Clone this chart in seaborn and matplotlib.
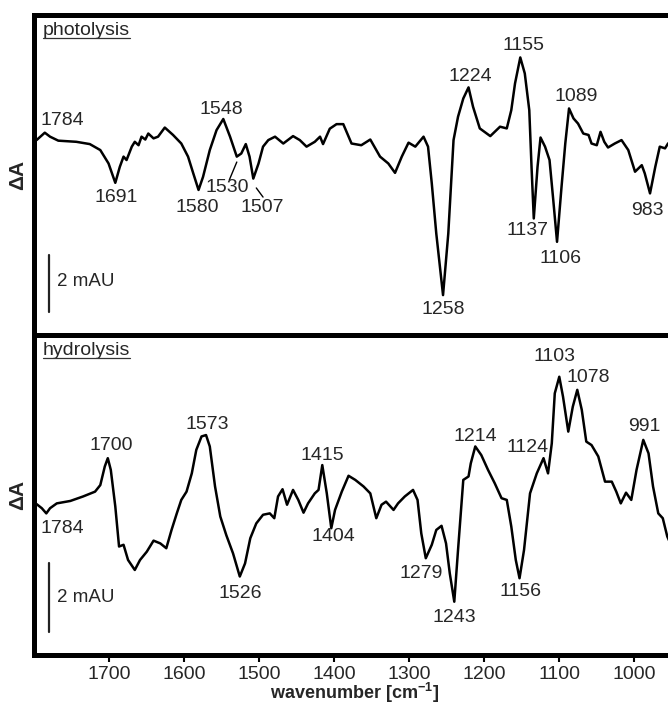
import matplotlib
matplotlib.use("Agg")
import matplotlib.pyplot as plt
import seaborn as sns

# ── Data ─────────────────────────────────────────────────────────────────────
# wavenumber in cm-1, dA in mAU
photo_wn = [1797, 1786, 1779, 1768, 1744, 1726, 1712, 1701, 1692, 1686, 1681, 1677,
            1670, 1666, 1661, 1657, 1652, 1648, 1641, 1635, 1626, 1615, 1604, 1595,
            1588, 1581, 1575, 1566, 1557, 1548, 1539, 1530, 1524, 1518, 1513, 1508,
            1501, 1495, 1488, 1479, 1468, 1455, 1446, 1437, 1426, 1419, 1415, 1406,
            1397, 1388, 1377, 1364, 1352, 1339, 1328, 1319, 1310, 1301, 1292, 1281,
            1275, 1270, 1264, 1255, 1248, 1241, 1235, 1228, 1221, 1215, 1206, 1192,
            1179, 1170, 1164, 1159, 1152, 1146, 1140, 1137, 1134, 1129, 1125, 1119,
            1113, 1108, 1103, 1097, 1092, 1087, 1081, 1075, 1068, 1061, 1057, 1050,
            1045, 1040, 1035, 1026, 1017, 1008, 999, 990, 986, 979, 972, 966, 959,
            955, 945, 930]
photo_dA = [0.00, 0.26, 0.12, -0.02, -0.06, -0.14, -0.35, -0.82, -1.50, -0.94, -0.58, -0.70,
            -0.23, -0.06, -0.18, 0.12, 0.02, 0.23, 0.06, 0.12, 0.44, 0.18, -0.12, -0.58,
            -1.17, -1.75, -1.29, -0.35, 0.35, 0.74, 0.12, -0.58, -0.47, -0.14, -0.58, -1.35,
            -0.82, -0.23, 0.00, 0.12, -0.12, 0.14, 0.00, -0.23, -0.06, 0.12, -0.14, 0.40,
            0.56, 0.56, -0.12, -0.18, 0.02, -0.58, -0.82, -1.15, -0.58, -0.09, -0.23, 0.12,
            -0.23, -1.52, -3.28, -5.44, -3.28, 0.00, 0.82, 1.46, 1.85, 1.17, 0.41, 0.14,
            0.47, 0.41, 1.05, 1.99, 2.90, 2.34, 1.05, -0.94, -2.75, -0.94, 0.09, -0.23,
            -0.70, -2.11, -3.57, -1.64, -0.12, 1.11, 0.76, 0.58, 0.23, 0.18, -0.12, -0.18,
            0.29, -0.06, -0.26, -0.12, 0.00, -0.35, -1.11, -0.88, -1.17, -1.87, -0.94, -0.23, -0.29,
            -0.12, 0.05, 0.10]

hydro_wn = [1797, 1790, 1784, 1779, 1770, 1752, 1735, 1719, 1712, 1706, 1702, 1698,
            1692, 1687, 1681, 1675, 1666, 1659, 1650, 1641, 1632, 1624, 1617, 1610,
            1604, 1597, 1590, 1584, 1577, 1571, 1566, 1559, 1552, 1544, 1535, 1526,
            1519, 1512, 1504, 1495, 1486, 1480, 1475, 1469, 1463, 1455, 1448, 1441,
            1435, 1426, 1421, 1416, 1410, 1404, 1399, 1390, 1381, 1372, 1361, 1352,
            1344, 1337, 1331, 1321, 1315, 1306, 1295, 1289, 1284, 1278, 1270, 1264,
            1257, 1251, 1246, 1240, 1235, 1228, 1221, 1218, 1212, 1204, 1195, 1186,
            1177, 1170, 1164, 1158, 1153, 1147, 1139, 1130, 1121, 1115, 1110, 1106,
            1100, 1095, 1088, 1082, 1076, 1070, 1064, 1057, 1048, 1039, 1030, 1024,
            1018, 1011, 1004, 997, 988, 981, 975, 968, 962, 956, 945, 930]
hydro_dA = [-0.12, -0.24, -0.39, -0.24, -0.10, -0.03, 0.10, 0.24, 0.43, 0.97, 1.21, 0.87,
            -0.19, -1.35, -1.30, -1.74, -2.03, -1.74, -1.50, -1.18, -1.26, -1.40, -0.87, -0.39,
            0.00, 0.24, 0.77, 1.45, 1.84, 1.88, 1.55, 0.39, -0.48, -1.02, -1.55, -2.22,
            -1.84, -1.11, -0.68, -0.43, -0.39, -0.53, 0.10, 0.31, -0.14, 0.29, 0.00, -0.37,
            -0.10, 0.19, 0.29, 1.01, 0.19, -0.82, -0.29, 0.24, 0.70, 0.58, 0.39, 0.19,
            -0.53, -0.14, -0.05, -0.29, -0.10, 0.10, 0.29, 0.00, -0.97, -1.69, -1.30, -0.87,
            -0.75, -1.26, -2.13, -2.95, -1.45, 0.58, 0.68, 1.06, 1.55, 1.30, 0.87, 0.48,
            0.05, 0.00, -0.77, -1.74, -2.27, -1.45, 0.19, 0.77, 1.21, 0.77, 1.64, 3.09,
            3.57, 2.99, 1.98, 2.70, 3.19, 2.61, 1.69, 1.59, 1.26, 0.53, 0.53, 0.24,
            -0.10, 0.21, 0.00, 0.87, 1.74, 1.35, 0.39, -0.39, -0.53, -1.06, -1.60, -2.10]

# peak labels (text, position of the label centre)
photo_labels = ["1784", "1691", "1580", "1548", "1530", "1507", "1258", "1224",
                "1155", "1137", "1106", "1089", "983"]
photo_lab_x = [1762, 1691, 1583, 1550, 1543, 1496, 1255, 1219, 1148, 1142, 1099, 1078, 983]
photo_lab_y = [0.70, -2.00, -2.35, 1.09, -1.67, -2.35, -5.96, 2.22, 3.31, -3.16, -4.14, 1.54, -2.46]

hydro_labels = ["1784", "1700", "1573", "1526", "1415", "1404", "1279", "1243",
                "1214", "1156", "1124", "1103", "1078", "991"]
hydro_lab_x = [1763, 1698, 1570, 1526, 1416, 1401, 1284, 1240, 1212, 1152, 1142, 1107, 1061, 987]
hydro_lab_y = [-0.84, 1.59, 2.20, -2.72, 1.30, -1.06, -2.13, -3.42, 1.84, -2.66, 1.51, 4.15, 3.54, 2.13]

# leader lines for the crowded 1530 / 1507 labels (upper panel)
leader_x = [[1540, 1530], [1504, 1495]]
leader_y = [[-1.40, -0.77], [-1.68, -2.00]]

X_TICKS = [1700, 1600, 1500, 1400, 1300, 1200, 1100, 1000]
SCALE_MAU = 2.0

# ── Style ────────────────────────────────────────────────────────────────────
sns.set_theme(style="white")
plt.rcParams["font.family"] = ["Liberation Sans", "DejaVu Sans"]
plt.rcParams["mathtext.fontset"] = "custom"
plt.rcParams["mathtext.rm"] = "Liberation Sans"
plt.rcParams["mathtext.bf"] = "Liberation Sans:bold"

FRAME_LW = 3.6
XLIM = (1800.4, 925.7)

fig = plt.figure(figsize=(6.68, 7.06), dpi=100)
L, W = 34 / 668, 656 / 668
TOP, MID, BOT = 1 - 15 / 706, 1 - 335 / 706, 1 - 654.5 / 706
ax1 = fig.add_axes([L, MID, W, TOP - MID])
ax2 = fig.add_axes([L, BOT, W, MID - BOT])

panels = [
    (ax1, photo_wn, photo_dA, photo_labels, photo_lab_x, photo_lab_y,
     (-6.84, 4.39), "photolysis", (-4.04, 1770, -4.97)),
    (ax2, hydro_wn, hydro_dA, hydro_labels, hydro_lab_x, hydro_lab_y,
     (-4.48, 4.78), "hydrolysis", (-1.83, 1770, -2.84)),
]

for ax, wn, dA, labs, lx, ly, ylim, title, (sb_top, sb_tx, sb_ty) in panels:
    sns.lineplot(x=wn, y=dA, ax=ax, color="black", lw=1.8, estimator=None,
                 sort=False, solid_joinstyle="round")
    ax.set_xlim(*XLIM)
    ax.set_ylim(*ylim)
    for sp in ax.spines.values():
        sp.set_linewidth(FRAME_LW)
        sp.set_color("black")
    ax.set_yticks([])
    for s, x, y in zip(labs, lx, ly):
        ax.text(x, y, s, ha="center", va="center", fontsize=14)
    # scale bar
    ax.plot([1780, 1780], [sb_top, sb_top - SCALE_MAU], color="#222222", lw=1.6)
    ax.text(sb_tx, sb_ty, "2 mAU", ha="left", va="center", fontsize=13.5)
    # panel name (underlined)
    ax.text(0.0135, 0.938, title, transform=ax.transAxes, ha="left",
            va="baseline", fontsize=14)
    ax.set_ylabel("ΔA", fontsize=15, fontweight="bold")
    ax.yaxis.set_label_coords(-0.011, 0.5)
    ax.set_xlabel("")
    ax.set_facecolor("white")

for xs, ys in zip(leader_x, leader_y):
    ax1.plot(xs, ys, color="black", lw=1.0)

ax1.set_xticks([])
ax2.set_xticks(X_TICKS)
ax2.tick_params(axis="x", direction="out", length=5, width=1.5, labelsize=14,
                pad=3, bottom=True, color="black")
ax2.set_xlabel(r"wavenumber [cm$^{\mathbf{-1}}$]", fontsize=13, fontweight="bold")
ax2.xaxis.set_label_coords(0.488, -0.084)

# underline the panel names
fig.canvas.draw()
r = fig.canvas.get_renderer()
for ax in (ax1, ax2):
    for t in ax.texts:
        if t.get_text() in ("photolysis", "hydrolysis"):
            bb = t.get_window_extent(r).transformed(fig.transFigure.inverted())
            yb = t.get_transform().transform(t.get_position())[1]
            yb = fig.transFigure.inverted().transform((0, yb - 3.5))[1]
            fig.add_artist(plt.Line2D([bb.x0, bb.x1], [yb, yb], color="#333333",
                                      lw=0.9, transform=fig.transFigure))

fig.savefig("out.png", dpi=100, facecolor="white")
